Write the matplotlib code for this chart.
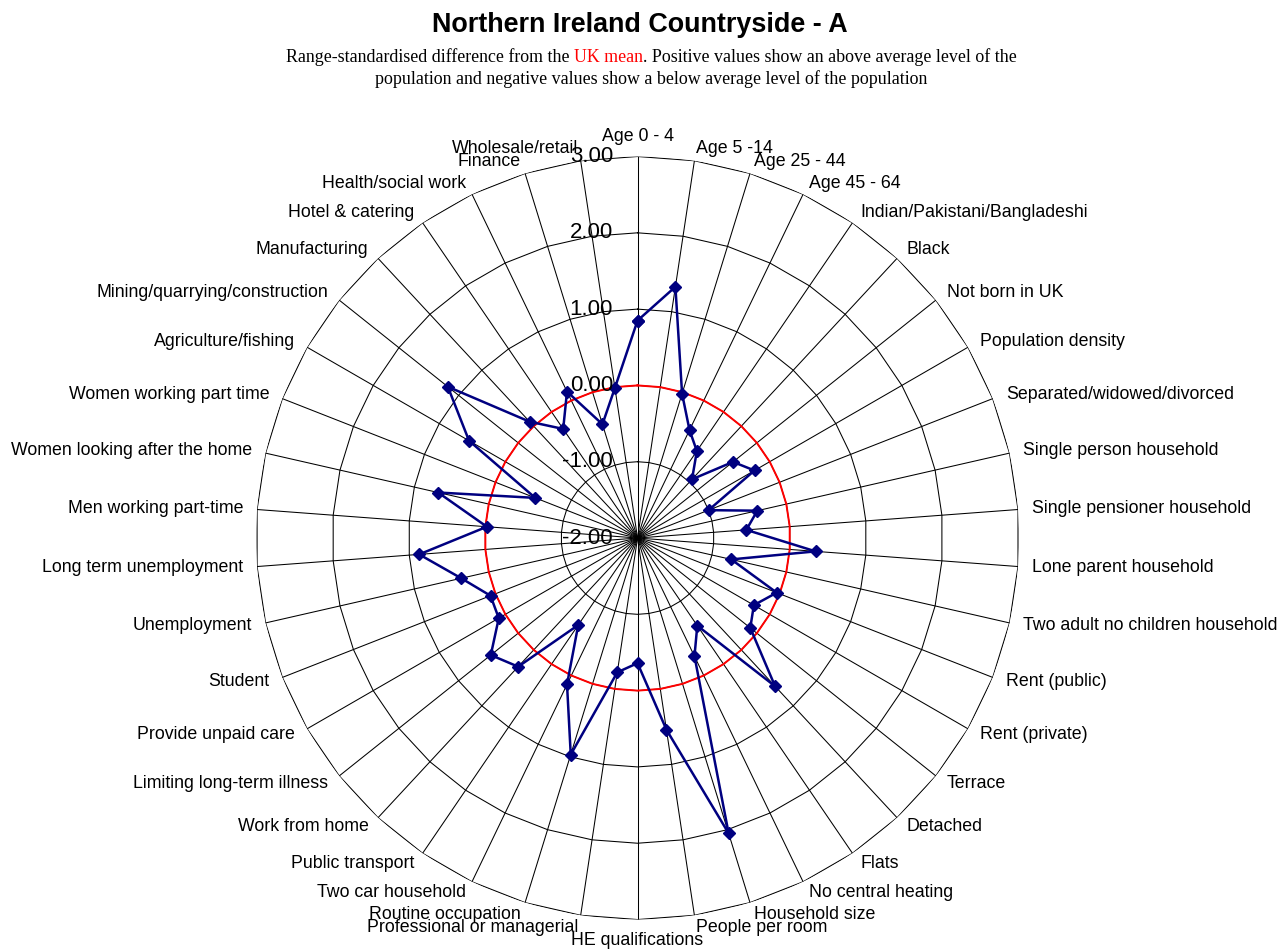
import numpy as np
import matplotlib
matplotlib.use("Agg")
import matplotlib.pyplot as plt

# categories clockwise from the top
categories = [
    "Age 0 - 4", "Age 5 -14", "Age 25 - 44", "Age 45 - 64",
    "Indian/Pakistani/Bangladeshi", "Black", "Not born in UK",
    "Population density", "Separated/widowed/divorced",
    "Single person household", "Single pensioner household",
    "Lone parent household", "Two adult no children household",
    "Rent (public)", "Rent (private)", "Terrace", "Detached", "Flats",
    "No central heating", "Household size", "People per room",
    "HE qualifications", "Professional or managerial",
    "Routine occupation", "Two car household", "Public transport",
    "Work from home", "Limiting long-term illness", "Provide unpaid care",
    "Student", "Unemployment", "Long term unemployment",
    "Men working part-time", "Women looking after the home",
    "Women working part time", "Agriculture/fishing",
    "Mining/quarrying/construction", "Manufacturing", "Hotel & catering",
    "Health/social work", "Finance", "Wholesale/retail",
]
values = [
    0.85, 1.33, -0.02, -0.43, -0.62, -0.95, -0.40, -0.23, -1.00, -0.39,
    -0.57, 0.34, -0.74, -0.04, -0.24, -0.11, 0.65, -0.61, -0.28, 2.05,
    0.54, -0.36, -0.22, 0.97, 0.13, -0.62, 0.30, 0.46, 0.10, 0.07,
    0.37, 0.87, -0.02, 0.68, -0.56, 0.55, 1.18, 0.08, -0.27, 0.13,
    -0.44, -0.01,
]
uk_mean = 0.0
ring_values = [-1, 0, 1, 2, 3]
tick_values = [-2, -1, 0, 1, 2, 3]
r_min, r_max = -2, 3

title = "Northern Ireland Countryside - A"
sub_left = "Range-standardised difference from the"
sub_red = "UK mean"
sub_right = ". Positive values show an above average level of the"
sub_line2 = "population and negative values show a below average level of the population"

W, H = 1282, 952
fig = plt.figure(figsize=(W / 100, H / 100), dpi=100)
ax = fig.add_axes([0.1997, 0.0341, 0.5952, 0.8015], projection="polar")
ax.set_theta_zero_location("N")
ax.set_theta_direction(-1)
ax.set_ylim(r_min, r_max)
ax.set_xticks([])
ax.set_yticks([])
ax.grid(False)
ax.spines["polar"].set_visible(False)
ax.patch.set_visible(False)

n = len(categories)
theta = np.linspace(0, 2 * np.pi, n, endpoint=False)
closed = np.append(theta, theta[0])

# polygon gridlines + spokes
for rv in ring_values:
    ax.plot(closed, [rv] * (n + 1), color="black", lw=0.75, zorder=1)
for t in theta:
    ax.plot([t, t], [r_min, r_max], color="black", lw=0.75, zorder=1)

ax.plot(closed, [uk_mean] * (n + 1), color="red", lw=1.4, zorder=2)
ax.plot(closed, values + values[:1], color="#000080", lw=1.8,
        marker="D", ms=6.5, zorder=3)

lab_font = "Liberation Sans"
for tv in tick_values:
    ax.annotate(f"{tv:.2f}", xy=(0, tv), xytext=(-17.6, 0),
                textcoords="offset points", ha="right", va="center",
                fontsize=16, family=lab_font, zorder=4)

pt = 0.72  # points per pixel
for t, lab in zip(theta, categories):
    s, c = np.sin(t), np.cos(t)
    if abs(s) < 0.01:
        ha = "center"
        va = "bottom" if c > 0 else "top"
    else:
        ha = "left" if s > 0 else "right"
        va = "center"
    ax.annotate(lab, xy=(t, r_max), xytext=(14 * s * pt, 12 * c * pt),
                textcoords="offset points", ha=ha, va=va,
                fontsize=12.8, family=lab_font, annotation_clip=False)

fig.text(0.4988, 0.9737, title, ha="center", va="center",
         fontsize=19.4, fontweight="bold", family=lab_font)

# subtitle with red "UK mean"
sub_font = dict(fontsize=12.9, family="Liberation Serif")
renderer = fig.canvas.get_renderer()


def text_width(s):
    tmp = fig.text(0, 0, s, **sub_font)
    w = tmp.get_window_extent(renderer).width
    tmp.remove()
    return w


full = sub_left + " " + sub_red + sub_right
w_full = text_width(full)
w_red_start = text_width(sub_left + " " + sub_red) - text_width(sub_red)
cx = 0.5078 * W
x0 = cx - w_full / 2
y1 = 0.9401
fig.text(x0 / W, y1, sub_left, ha="left", va="center", **sub_font)
fig.text((x0 + w_red_start) / W, y1, sub_red, ha="left", va="center",
         color="red", **sub_font)
fig.text((x0 + w_full) / W, y1, sub_right, ha="right", va="center", **sub_font)
fig.text(0.5078, 0.917, sub_line2, ha="center", va="center", **sub_font)

fig.savefig("out.png", dpi=100)
